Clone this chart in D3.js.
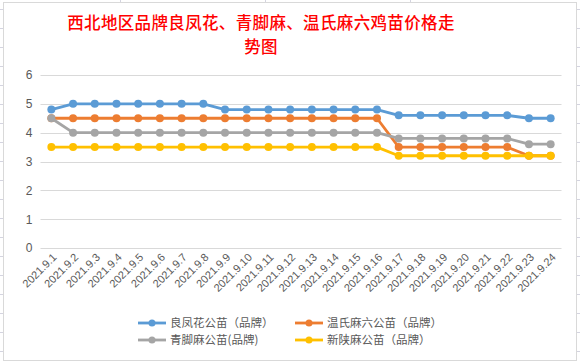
<!DOCTYPE html>
<html lang="zh">
<head>
<meta charset="UTF-8" />
<title>西北地区鸡苗价格走势图</title>
<script src="https://d3js.org/d3.v7.min.js"></script>
<style>
  body { margin: 0; background: #fff; font-family: "Noto Sans CJK SC", "Noto Sans", sans-serif; }
  svg { display: block; }
</style>
</head>
<body>
<svg id="chart" width="580" height="364"></svg>
<script>
const dates = ["2021.9.1","2021.9.2","2021.9.3","2021.9.4","2021.9.5","2021.9.6","2021.9.7","2021.9.8",
  "2021.9.9","2021.9.10","2021.9.11","2021.9.12","2021.9.13","2021.9.14","2021.9.15","2021.9.16",
  "2021.9.17","2021.9.18","2021.9.19","2021.9.20","2021.9.21","2021.9.22","2021.9.23","2021.9.24"];

const liangfenghua = [4.8,5,5,5,5,5,5,5,4.8,4.8,4.8,4.8,4.8,4.8,4.8,4.8,4.6,4.6,4.6,4.6,4.6,4.6,4.5,4.5];
const wenshima    = [4.5,4.5,4.5,4.5,4.5,4.5,4.5,4.5,4.5,4.5,4.5,4.5,4.5,4.5,4.5,4.5,3.5,3.5,3.5,3.5,3.5,3.5,3.2,3.2];
const qingjiaoma  = [4.5,4,4,4,4,4,4,4,4,4,4,4,4,4,4,4,3.8,3.8,3.8,3.8,3.8,3.8,3.6,3.6];
const xinshanma   = [3.5,3.5,3.5,3.5,3.5,3.5,3.5,3.5,3.5,3.5,3.5,3.5,3.5,3.5,3.5,3.5,3.2,3.2,3.2,3.2,3.2,3.2,3.2,3.2];

const yTicks = [0,1,2,3,4,5,6];
const titleLines = ["西北地区品牌良凤花、青脚麻、温氏麻六鸡苗价格走", "势图"];

const series = [
  { name: "良凤花公苗（品牌）", values: liangfenghua, color: "#5b9bd5" },
  { name: "温氏麻六公苗（品牌）", values: wenshima, color: "#ed7d31" },
  { name: "青脚麻公苗(品牌)", values: qingjiaoma, color: "#a5a5a5" },
  { name: "新陕麻公苗（品牌）", values: xinshanma, color: "#ffc000" }
];

const svg = d3.select("#chart");

// spreadsheet cells behind the chart
const cellLines = svg.append("g").attr("stroke", "#d4d4e0").attr("stroke-width", 1);
d3.range(9, 364, 19).forEach(yy => {
  cellLines.append("line").attr("x1", 0).attr("x2", 3).attr("y1", yy + 0.5).attr("y2", yy + 0.5);
  cellLines.append("line").attr("x1", 577).attr("x2", 580).attr("y1", yy + 0.5).attr("y2", yy + 0.5);
});
[120, 265, 410].forEach(xx => {
  cellLines.append("line").attr("x1", xx + 0.5).attr("x2", xx + 0.5).attr("y1", 0).attr("y2", 2);
});

// chart frame
svg.append("rect")
  .attr("x", 3.5).attr("y", 2.5).attr("width", 573).attr("height", 358)
  .attr("fill", "#fff").attr("stroke", "#d9d9d9");

// title, two lines as separate texts
svg.selectAll(".title")
  .data(titleLines)
  .join("text")
  .attr("class", "title")
  .attr("x", 261)
  .attr("y", (d, i) => 29 + i * 24)
  .attr("text-anchor", "middle")
  .attr("fill", "#ff0000")
  .attr("font-size", 16.5)
  .attr("letter-spacing", 0.35)
  .attr("font-weight", 500)
  .text(d => d);

const plotLeft = 40.5, plotRight = 561.5, plotTop = 75, plotBottom = 248;

const x = d3.scaleBand().domain(dates).range([plotLeft, plotRight]);
const y = d3.scaleLinear().domain([0, 6]).range([plotBottom, plotTop]);

// gridlines
svg.append("g")
  .selectAll("line")
  .data(yTicks)
  .join("line")
  .attr("x1", plotLeft).attr("x2", plotRight)
  .attr("y1", d => Math.round(y(d)) + 0.5).attr("y2", d => Math.round(y(d)) + 0.5)
  .attr("stroke", "#d9d9d9");

// y axis labels
const yAxis = d3.axisLeft(y).tickValues(yTicks).tickFormat(d3.format("d")).tickSize(0).tickPadding(0);
const yg = svg.append("g").attr("transform", `translate(${plotLeft - 8},0)`).call(yAxis);
yg.select(".domain").remove();
yg.selectAll("text").attr("fill", "#595959").attr("font-size", 12)
  .attr("font-family", "'Liberation Sans', Arial, sans-serif");

// x axis labels
const xAxis = d3.axisBottom(x).tickSize(0).tickPadding(0);
const xg = svg.append("g").attr("transform", `translate(0,${plotBottom})`).call(xAxis);
xg.select(".domain").remove();
xg.selectAll("text")
  .attr("fill", "#595959")
  .attr("font-size", 11)
  .attr("font-family", "'Liberation Sans', Arial, sans-serif")
  .attr("text-anchor", "end")
  .attr("dy", 0)
  .attr("transform", "translate(6,10) rotate(-45)");

// lines and markers
const cx = d => x(d) + x.bandwidth() / 2;
const line = d3.line().x((d, i) => cx(dates[i])).y(d => y(d));

series.forEach(s => {
  svg.append("path")
    .datum(s.values)
    .attr("fill", "none")
    .attr("stroke", s.color)
    .attr("stroke-width", 2.8)
    .attr("stroke-linejoin", "round")
    .attr("d", line);
  svg.append("g")
    .selectAll("circle")
    .data(s.values)
    .join("circle")
    .attr("cx", (d, i) => cx(dates[i]))
    .attr("cy", d => y(d))
    .attr("r", 4)
    .attr("fill", s.color);
});

// legend
const legendPos = [[138, 323], [295, 323], [138, 340], [295, 340]];
series.forEach((s, i) => {
  const [lx, ly] = legendPos[i];
  const g = svg.append("g").attr("transform", `translate(${lx},${ly})`);
  g.append("line").attr("x1", 0).attr("x2", 28).attr("stroke", s.color).attr("stroke-width", 2.8);
  g.append("circle").attr("cx", 14).attr("r", 3.5).attr("fill", s.color);
  g.append("text").attr("x", 32).attr("dy", "0.35em")
    .attr("fill", "#595959").attr("font-size", 11.5).text(s.name);
});
</script>
</body>
</html>
